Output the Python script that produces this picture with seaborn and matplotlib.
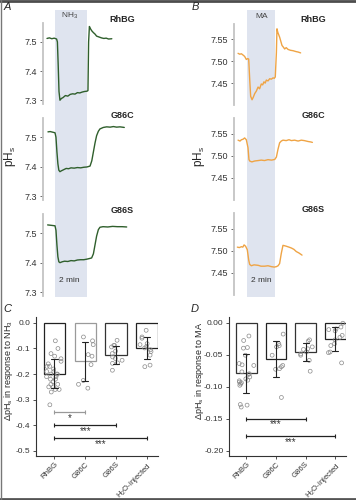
import numpy as np
import pandas as pd
import matplotlib
matplotlib.use('Agg')
import matplotlib.pyplot as plt
from matplotlib.lines import Line2D
import seaborn as sns

sns.set_theme(style='white')
plt.rcParams['font.family'] = ['Liberation Sans', 'DejaVu Sans']
plt.rcParams['mathtext.fontset'] = 'custom'
plt.rcParams['mathtext.rm'] = 'Liberation Sans'
plt.rcParams['mathtext.it'] = 'Liberation Sans:italic'
plt.rcParams['axes.unicode_minus'] = False

# ---- traces (time in min, pHs) ----
a_rhbg_t = [-0.5, -0.35, -0.2, -0.05, 0.1, 0.15, 0.2, 0.25, 0.31, 0.4, 0.5, 0.65, 0.8, 0.95, 1.1, 1.25, 1.4, 1.55,
            1.7, 1.85, 2.0, 2.06, 2.1, 2.15, 2.22, 2.3, 2.4, 2.5, 2.6, 2.75, 2.9, 3.05, 3.2, 3.35, 3.55]
a_rhbg_ph = [7.512, 7.514, 7.511, 7.513, 7.510, 7.50, 7.42, 7.33, 7.300, 7.306, 7.309, 7.316, 7.314, 7.320, 7.322,
             7.321, 7.326, 7.325, 7.328, 7.330, 7.331, 7.333, 7.50, 7.553, 7.545, 7.538, 7.532, 7.527, 7.520, 7.517,
             7.514, 7.512, 7.513, 7.510, 7.511]
a_g86c_t = [-0.44, -0.3, -0.15, 0.0, 0.06, 0.12, 0.18, 0.24, 0.31, 0.4, 0.55, 0.7, 0.85, 1.0, 1.2, 1.4, 1.6, 1.8,
            2.0, 2.19, 2.3, 2.4, 2.5, 2.6, 2.71, 2.81, 3.02, 3.23, 3.45, 3.65, 3.85, 4.06, 4.33]
a_g86c_ph = [7.518, 7.519, 7.517, 7.515, 7.50, 7.45, 7.41, 7.388, 7.383, 7.386, 7.390, 7.394, 7.393, 7.396, 7.395,
             7.397, 7.396, 7.398, 7.399, 7.402, 7.42, 7.45, 7.48, 7.505, 7.52, 7.528, 7.533, 7.535, 7.534, 7.536,
             7.534, 7.535, 7.533]
a_g86s_t = [-0.46, -0.3, -0.15, 0.0, 0.06, 0.12, 0.18, 0.24, 0.31, 0.45, 0.6, 0.8, 1.0, 1.2, 1.4, 1.6, 1.8, 2.0,
            2.15, 2.29, 2.4, 2.5, 2.6, 2.71, 2.81, 3.0, 3.3, 3.6, 3.9, 4.2, 4.48]
a_g86s_ph = [7.528, 7.527, 7.526, 7.525, 7.51, 7.46, 7.42, 7.403, 7.400, 7.403, 7.405, 7.404, 7.407, 7.406, 7.409,
             7.410, 7.410, 7.412, 7.414, 7.416, 7.43, 7.46, 7.49, 7.512, 7.520, 7.522, 7.521, 7.523, 7.522, 7.522,
             7.521]

b_rhbg_t = [-0.64, -0.52, -0.40, -0.28, -0.17, -0.05, 0.05, 0.12, 0.19, 0.26, 0.36, 0.45, 0.55, 0.67, 0.79, 0.9,
            1.02, 1.12, 1.21, 1.3, 1.38, 1.5, 1.62, 1.74, 1.86, 1.95, 2.02, 2.10, 2.14, 2.2, 2.33, 2.42, 2.5, 2.6,
            2.69, 2.8, 2.93, 3.1, 3.29, 3.5, 3.65, 3.83]
b_rhbg_ph = [7.518, 7.516, 7.517, 7.514, 7.511, 7.504, 7.506, 7.505, 7.46, 7.42, 7.412, 7.418, 7.426, 7.432, 7.441,
             7.437, 7.448, 7.446, 7.453, 7.450, 7.457, 7.455, 7.460, 7.459, 7.462, 7.461, 7.464, 7.52, 7.574, 7.566,
             7.555, 7.545, 7.536, 7.532, 7.528, 7.531, 7.527, 7.525, 7.524, 7.522, 7.521, 7.519]
b_g86c_t = [-0.64, -0.5, -0.4, -0.29, -0.17, -0.05, 0.07, 0.14, 0.21, 0.35, 0.55, 0.8, 1.02, 1.25, 1.50, 1.75, 1.98,
            2.10, 2.21, 2.33, 2.45, 2.57, 2.8, 3.0, 3.17, 3.4, 3.65, 3.88, 4.1, 4.36, 4.55, 4.67]
b_g86c_ph = [7.535, 7.533, 7.536, 7.537, 7.540, 7.536, 7.518, 7.491, 7.4875, 7.486, 7.488, 7.489, 7.490, 7.489,
             7.491, 7.490, 7.4915, 7.497, 7.514, 7.529, 7.533, 7.535, 7.534, 7.536, 7.534, 7.535, 7.533, 7.535,
             7.534, 7.532, 7.531, 7.530]
b_g86s_t = [-0.69, -0.55, -0.40, -0.3, -0.21, -0.10, 0.02, 0.12, 0.19, 0.31, 0.5, 0.79, 1.0, 1.26, 1.5, 1.74, 1.95,
            2.10, 2.22, 2.33, 2.45, 2.57, 2.7, 2.81, 3.0, 3.17, 3.35, 3.52, 3.7, 3.93]
b_g86s_ph = [7.508, 7.507, 7.509, 7.508, 7.513, 7.510, 7.502, 7.479, 7.469, 7.466, 7.468, 7.467, 7.465, 7.465,
             7.466, 7.464, 7.463, 7.464, 7.466, 7.471, 7.494, 7.512, 7.511, 7.510, 7.508, 7.506, 7.503, 7.498,
             7.495, 7.490]

trace_names = ['RhBG', 'G86C', 'G86S']

# ---- delta pHs per oocyte ----
groups = ['RhBG', 'G86C', 'G86S', 'H$_2$O-injected']
c_rhbg = [-0.07, -0.10, -0.12, -0.13, -0.14, -0.15, -0.16, -0.17, -0.17, -0.18, -0.19, -0.19, -0.20, -0.20, -0.20,
          -0.21, -0.21, -0.22, -0.22, -0.23, -0.24, -0.24, -0.25, -0.25, -0.26, -0.26, -0.27, -0.32]
c_g86c = [-0.055, -0.07, -0.085, -0.124, -0.13, -0.163, -0.225, -0.24, -0.255]
c_g86s = [-0.068, -0.088, -0.094, -0.088, -0.11, -0.12, -0.133, -0.139, -0.146, -0.156, -0.158, -0.185]
c_h2o = [-0.029, -0.055, -0.06, -0.081, -0.085, -0.092, -0.098, -0.105, -0.112, -0.126, -0.165, -0.171]
d_rhbg = [-0.021, -0.028, -0.039, -0.040, -0.051, -0.064, -0.066, -0.067, -0.077, -0.080, -0.081, -0.085, -0.088,
          -0.090, -0.091, -0.093, -0.094, -0.096, -0.098, -0.128, -0.129, -0.132]
d_g86c = [-0.018, -0.033, -0.038, -0.036, -0.051, -0.067, -0.069, -0.072, -0.073, -0.117]
d_g86s = [-0.027, -0.029, -0.038, -0.041, -0.042, -0.046, -0.049, -0.051, -0.059, -0.076]
d_h2o = [-0.001, -0.007, -0.010, -0.011, -0.013, -0.020, -0.023, -0.027, -0.033, -0.036, -0.046, -0.047, -0.063]

c_sig = [('*', 0, 1, -0.35, '#999999'), ('***', 0, 2, -0.40, '#222222'), ('***', 0, 3, -0.45, '#222222')]
d_sig = [('***', 0, 2, -0.15, '#222222'), ('***', 0, 3, -0.178, '#222222')]

W, H = 356, 500
green = '#2f5f2c'
orange = '#efa445'
band = '#dfe4ef'
grey_spine = '#c4c4c4'


def box(x0, y0, x1, y1):
    return [x0 / W, 1 - y1 / H, (x1 - x0) / W, (y1 - y0) / H]


def ftext(x, y, s, **kw):
    fig.text(x / W, 1 - y / H, s, **kw)


fig = plt.figure(figsize=(W / 100, H / 100), dpi=100)

# ---- trace columns ----
cols = [
    dict(x0=43, x1=135, xlim=(-0.75, 5.0), rows=[(23, 104), (118, 200), (214, 296)], ylim=(7.287, 7.565),
         ticks=[7.3, 7.4, 7.5], labels=['7.3', '7.4', '7.5'], color=green,
         data=[(a_rhbg_t, a_rhbg_ph), (a_g86c_t, a_g86c_ph), (a_g86s_t, a_g86s_ph)],
         agent='NH$_3$', agent_x=70, title_x=122, min_x=69, ylab_x=10, letter='A', letter_x=7),
    dict(x0=234, x1=330, xlim=(-0.93, 5.93), rows=[(24, 105), (118, 200), (213, 295)], ylim=(7.40, 7.585),
         ticks=[7.45, 7.50, 7.55], labels=['7.45', '7.50', '7.55'], color=orange,
         data=[(b_rhbg_t, b_rhbg_ph), (b_g86c_t, b_g86c_ph), (b_g86s_t, b_g86s_ph)],
         agent='MA', agent_x=262, title_x=313, min_x=261, ylab_x=199, letter='B', letter_x=195),
]

for col in cols:
    bg = fig.add_axes(box(col['x0'], 10, col['x1'], 297))
    bg.set_xlim(*col['xlim'])
    bg.axvspan(0, 2, color=band, lw=0)
    bg.axis('off')
    ftext(col['agent_x'], 16, col['agent'], ha='center', va='center', fontsize=6, color='#444444')
    ftext(col['min_x'], 281, '2 min', ha='center', va='center', fontsize=6, color='#333333')
    ftext(col['ylab_x'], 157, 'pH$_\\mathrm{s}$', ha='center', va='center', rotation=90, fontsize=8.5)
    ftext(col['letter_x'], 7, col['letter'], ha='center', va='center', fontsize=8, style='italic')
    for (r0, r1), (t, ph), name in zip(col['rows'], col['data'], trace_names):
        ax = fig.add_axes(box(col['x0'], r0, col['x1'], r1))
        ax.patch.set_alpha(0)
        sns.lineplot(x=t, y=ph, ax=ax, color=col['color'], lw=1.0, estimator=None)
        ax.set_xlim(*col['xlim'])
        ax.set_ylim(*col['ylim'])
        ax.set_yticks(col['ticks'])
        ax.set_yticklabels(col['labels'])
        ax.set_xticks([])
        for s in ['top', 'right', 'bottom']:
            ax.spines[s].set_visible(False)
        ax.spines['left'].set_color(grey_spine)
        ax.spines['left'].set_linewidth(1.3)
        ax.tick_params(axis='y', length=2.5, width=0.6, color='#555555', labelsize=6.5, labelcolor='#333333',
                       pad=1.5, left=True)
        ax.set_xlabel('')
        ax.set_ylabel('')
        ftext(col['title_x'], r0 - 4 if r0 < 30 else r0 - 3, name, ha='center', va='center', fontsize=6.5,
              fontweight='bold')

# ---- bar panels ----
bar_panels = [
    dict(box=(36, 317, 158, 456), xlim=(-0.6, 3.36), ylim=(-0.52, 0.023),
         ticks=[0, -0.1, -0.2, -0.3, -0.4, -0.5], labels=['0.0', '-0.1', '-0.2', '-0.3', '-0.4', '-0.5'],
         vals=[c_rhbg, c_g86c, c_g86s, c_h2o], sig=c_sig, edges=['#222222', '#9a9a9a', '#333333', '#222222'],
         ylab='$\\Delta$pH$_\\mathrm{s}$ in response to NH$_3$', ylab_x=9, letter='C', letter_x=7),
    dict(box=(229, 317, 346, 456), xlim=(-0.58, 3.36), ylim=(-0.2085, 0.0087),
         ticks=[0, -0.05, -0.10, -0.15, -0.20], labels=['0.00', '-0.05', '-0.10', '-0.15', '-0.20'],
         vals=[d_rhbg, d_g86c, d_g86s, d_h2o], sig=d_sig, edges=['#333333', '#222222', '#333333', '#222222'],
         ylab='$\\Delta$pH$_\\mathrm{s}$ in response to MA', ylab_x=199, letter='D', letter_x=195),
]

np.random.seed(3)
for p in bar_panels:
    df = pd.DataFrame({'group': np.concatenate([[g] * len(v) for g, v in zip(groups, p['vals'])]),
                       'val': np.concatenate(p['vals'])})
    ax = fig.add_axes(box(*p['box']))
    sns.barplot(data=df, x='group', y='val', order=groups, ax=ax, color='white', width=0.7,
                errorbar='sd', capsize=0.2, err_kws={'color': '#222222', 'linewidth': 0.8}, linewidth=0.9)
    for patch, ec in zip(ax.patches, p['edges']):
        patch.set_edgecolor(ec)
        patch.set_facecolor('none')
    sns.stripplot(data=df, x='group', y='val', order=groups, ax=ax, jitter=0.27, size=2.8, color='#888888')
    for coll in ax.collections:
        coll.set_facecolor('none')
        coll.set_edgecolor('#8a8a8a')
        coll.set_linewidth(0.5)
    for ln in ax.lines:
        ln.set_zorder(5)
    for s, i, j, y, c in p['sig']:
        ax.plot([i, j], [y, y], color=c, lw=0.9, marker='|', ms=3, mew=0.8)
        ax.annotate(s, (0.5 * (i + j), y), xytext=(0, -0.5), textcoords='offset points', ha='center', va='top',
                    fontsize=7, color='#333333')
    ax.set_xlim(*p['xlim'])
    ax.set_ylim(*p['ylim'])
    ax.set_yticks(p['ticks'])
    ax.set_yticklabels(p['labels'])
    ax.set_xticks(range(4))
    ax.set_xticklabels(groups, rotation=45, ha='right', rotation_mode='anchor', fontsize=5.6)
    ax.set_xlabel('')
    ax.set_ylabel('')
    for s in ['top', 'right']:
        ax.spines[s].set_visible(False)
    for s in ['left', 'bottom']:
        ax.spines[s].set_color('#333333')
        ax.spines[s].set_linewidth(0.8)
    ax.tick_params(length=2.5, width=0.6, color='#333333', labelsize=6, labelcolor='#333333', pad=1.5,
                   left=True, bottom=True)
    ax.tick_params(axis='x', labelsize=5.6, pad=1)
    ftext(p['ylab_x'], 371, p['ylab'], ha='center', va='center', rotation=90, fontsize=6.5)
    ftext(p['letter_x'], 309, p['letter'], ha='center', va='center', fontsize=8, style='italic')

# frame edges of the source image
fig.add_artist(Line2D([0, 1], [1 - 1 / H, 1 - 1 / H], transform=fig.transFigure, color='#4d4d4d', lw=2))
fig.add_artist(Line2D([0, 1], [1.5 / H, 1.5 / H], transform=fig.transFigure, color='#555555', lw=2))
fig.add_artist(Line2D([0.5 / W, 0.5 / W], [0, 1], transform=fig.transFigure, color='#777777', lw=1))

fig.savefig('out.png', dpi=100)
